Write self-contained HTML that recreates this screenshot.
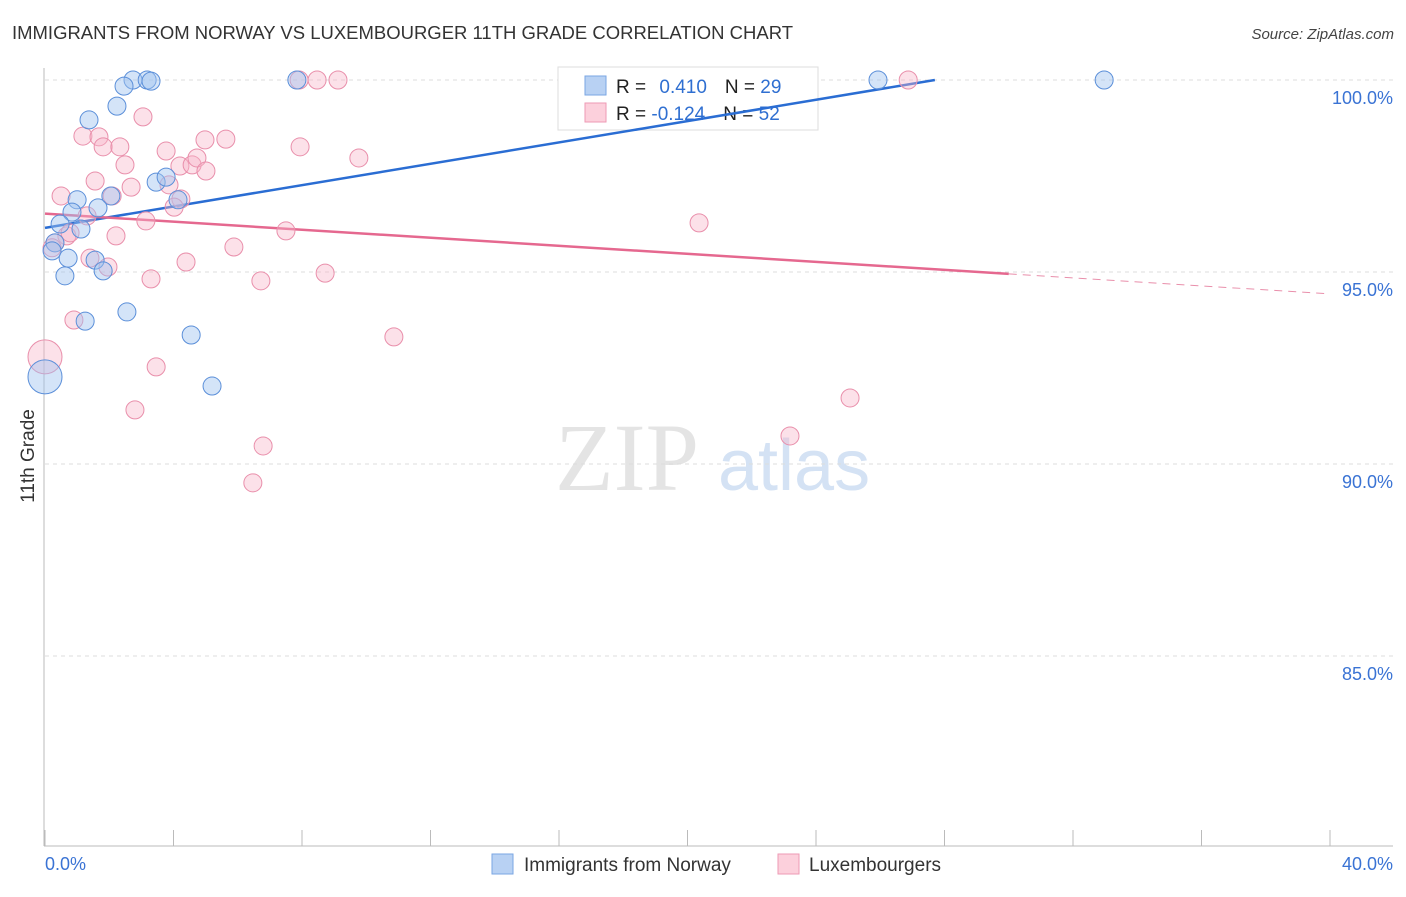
<!DOCTYPE html>
<html><head><meta charset="utf-8"><style>
body{margin:0;background:#fff;font-family:"Liberation Sans",sans-serif;}
</style></head><body>
<svg id="c" width="1406" height="892" xmlns="http://www.w3.org/2000/svg" font-family="Liberation Sans, sans-serif">
<text x="12" y="39" font-size="18" fill="#333" textLength="781" lengthAdjust="spacingAndGlyphs">IMMIGRANTS FROM NORWAY VS LUXEMBOURGER 11TH GRADE CORRELATION CHART</text>
<text x="1394" y="39" font-size="15" fill="#444" font-style="italic" text-anchor="end">Source: ZipAtlas.com</text>
<text transform="translate(34,456) rotate(-90)" font-size="19" fill="#333" text-anchor="middle">11th Grade</text>
<text x="555" y="490" font-size="96" fill="#e4e4e4" font-family="Liberation Serif, serif">ZIP</text>
<text x="718" y="490" font-size="72" fill="#d4e2f4">atlas</text>
<g id="grid"></g><g id="axes"></g>
<g>
<rect x="558" y="67" width="260" height="63" fill="#fff" stroke="#ddd"/>
<rect x="585" y="76" width="21" height="19" fill="#b8d1f3" stroke="#7aa6e3"/>
<rect x="585" y="103" width="21" height="19" fill="#fcd0dc" stroke="#ee9ab4"/>
<text x="616" y="93" font-size="19" fill="#222">R = <tspan fill="#2f6fd1" dx="8">0.410</tspan><tspan fill="#222" dx="18">N = </tspan><tspan fill="#2f6fd1">29</tspan></text>
<text x="616" y="120" font-size="19" fill="#222">R = <tspan fill="#2f6fd1">-0.124</tspan><tspan fill="#222" dx="18">N = </tspan><tspan fill="#2f6fd1">52</tspan></text>
</g>
<g id="trends"></g><g id="pts"></g>
<g>
<rect x="492" y="854" width="21" height="20" fill="#b8d1f3" stroke="#7aa6e3"/>
<text x="524" y="871" font-size="19" fill="#333">Immigrants from Norway</text>
<rect x="778" y="854" width="21" height="20" fill="#fcd0dc" stroke="#ee9ab4"/>
<text x="809" y="871" font-size="19" fill="#333">Luxembourgers</text>
</g>
</svg>
<script>
const blueX=[2.74,3.18,3.30,2.46,2.24,1.37,7.84,25.93,32.97,3.46,3.77,2.05,1.00,1.65,0.84,0.47,1.12,0.31,0.22,0.72,1.56,1.81,0.62,2.55,1.25,4.55,5.20,0.0,4.14];
const blueY=[100,100,99.97,99.84,99.32,98.96,100,100,100,97.34,97.47,96.98,96.88,96.67,96.56,96.25,96.12,95.76,95.55,95.36,95.31,95.03,94.90,93.96,93.72,93.36,92.03,92.27,96.88];
const pinkX=[7.91,8.47,9.12,26.87,3.05,1.18,1.68,1.81,2.33,3.77,4.98,5.63,7.94,9.77,2.49,4.20,4.58,4.73,5.01,1.56,2.68,3.86,0.50,2.09,4.23,4.02,1.31,3.14,7.50,20.36,0.68,2.21,0.31,0.22,5.88,1.40,1.96,4.39,8.72,3.30,6.72,0.90,10.86,3.46,25.06,2.80,6.79,23.19,6.47,0,0.78];
const pinkY=[100,100,100,100,99.04,98.54,98.52,98.26,98.26,98.15,98.44,98.46,98.26,97.97,97.79,97.76,97.79,97.97,97.63,97.37,97.21,97.27,96.98,96.98,96.90,96.69,96.46,96.33,96.07,96.28,95.94,95.94,95.76,95.63,95.65,95.36,95.13,95.26,94.97,94.82,94.77,93.75,93.31,92.53,91.72,91.41,90.47,90.73,89.51,92.79,96.02];
const yTicks=[100,95,90,85];
const yTickLabels=["100.0%","95.0%","90.0%","85.0%"];
const xTickVals=[0,4,8,12,16,20,24,28,32,36,40];
const blueTrendX=[0,27.7],blueTrendY=[96.15,100];
const pinkTrendX=[0,30.0,40],pinkTrendY=[96.52,94.95,94.43];
const NS="http://www.w3.org/2000/svg";
const sx=v=>45+v/40*1285, sy=v=>80+(100-v)*38.4;
function mk(t,a,p){const e=document.createElementNS(NS,t);for(const k in a)e.setAttribute(k,a[k]);p.appendChild(e);return e;}
const grid=document.getElementById('grid'),axes=document.getElementById('axes'),tr=document.getElementById('trends'),pts=document.getElementById('pts');
yTicks.forEach((v,i)=>{
 const l=mk('line',{x1:45,x2:1393,y1:sy(v),y2:sy(v),stroke:'#ddd','stroke-dasharray':'4,4'},grid);
 
 
 const t=mk('text',{x:1393,y:sy(v)+24,'font-size':18,fill:'#3a73d4','text-anchor':'end'},axes);t.textContent=yTickLabels[i];
 
 
});
mk('line',{x1:44,x2:44,y1:68,y2:846,stroke:'#bbb'},axes);
mk('line',{x1:44,x2:1393,y1:846,y2:846,stroke:'#bbb'},axes);
xTickVals.forEach(v=>{const l=mk('line',{x1:sx(v),x2:sx(v),y1:830,y2:846,stroke:'#bbb'},axes);
 
 });
const x0=mk('text',{x:45,y:870,'font-size':18,fill:'#3a73d4'},axes);x0.textContent='0.0%';


const x1=mk('text',{x:1393,y:870,'font-size':18,fill:'#3a73d4','text-anchor':'end'},axes);x1.textContent='40.0%';


function dots(X,Y,fill,stroke,name){X.forEach((x,i)=>{const r=(x===0)?17:9;
 const c=mk('circle',{cx:sx(x),cy:sy(Y[i]),r:r,fill:fill,stroke:stroke,'stroke-width':1},pts);
 
 });}
dots(pinkX,pinkY,'rgba(248,180,200,0.4)','#e98fab','luxembourger-point');
dots(blueX,blueY,'rgba(160,196,240,0.45)','#5b8fd9','norway-point');
const bl=mk('line',{x1:sx(blueTrendX[0]),y1:sy(blueTrendY[0]),x2:sx(blueTrendX[1]),y2:sy(blueTrendY[1]),stroke:'#2a6dd3','stroke-width':2.5},tr);


const pl=mk('line',{x1:sx(pinkTrendX[0]),y1:sy(pinkTrendY[0]),x2:sx(pinkTrendX[1]),y2:sy(pinkTrendY[1]),stroke:'#e5688f','stroke-width':2.5},tr);


const pd=mk('line',{x1:sx(pinkTrendX[1]),y1:sy(pinkTrendY[1]),x2:sx(pinkTrendX[2]),y2:sy(pinkTrendY[2]),stroke:'#e98fab','stroke-width':1,'stroke-dasharray':'8,6'},tr);


</script>
</body></html>
